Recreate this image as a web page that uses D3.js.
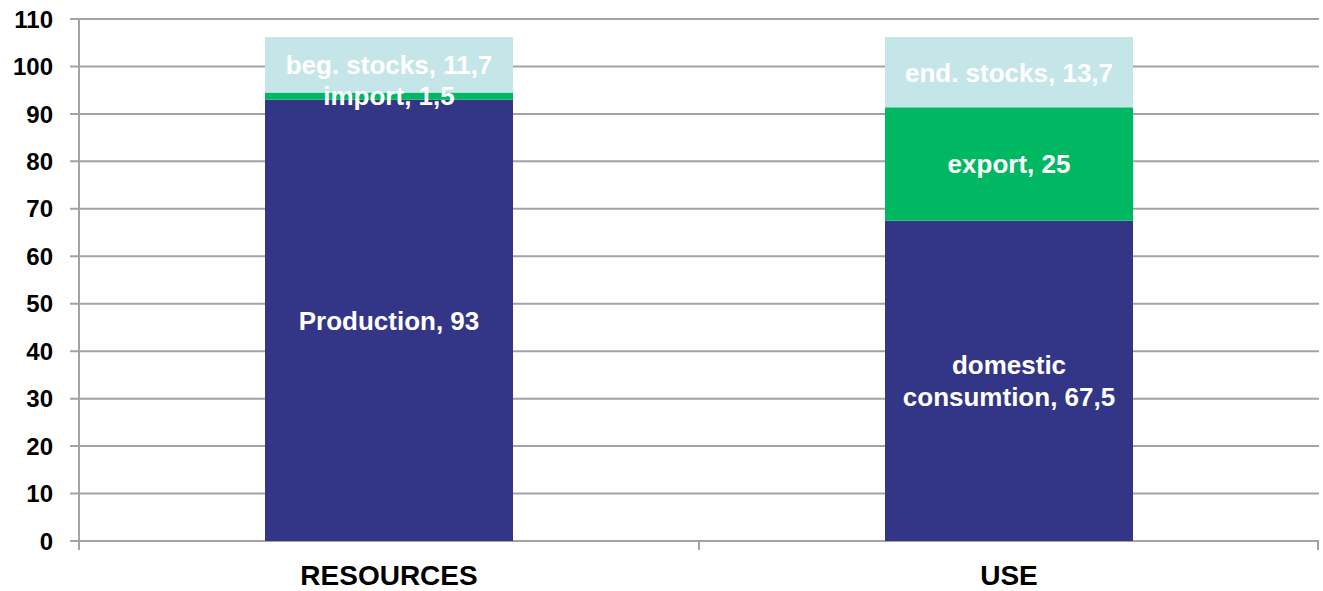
<!DOCTYPE html>
<html>
<head>
<meta charset="utf-8">
<script src="https://cdn.jsdelivr.net/npm/d3@7"></script>
<style>
    body { margin: 0; background: #ffffff; }
    svg { display: block; font-family: "Liberation Sans", Arial, sans-serif; }
</style>
</head>
<body>
<svg></svg>
<script>
var categories = ["RESOURCES", "USE"];
// bar heights as drawn in the picture
var resourcesValues = [93, 1.5, 11.7];
var useValues = [67.5, 23.9, 14.8];
// label texts as printed on the bars
var resourcesLabels = [["Production, 93"], ["import, 1,5"], ["beg. stocks, 11,7"]];
var useLabels = [["domestic", "consumtion, 67,5"], ["export, 25"], ["end. stocks, 13,7"]];
var segmentColors = ["#333686", "#00b862", "#c5e6e9"];
var yTicks = [0, 10, 20, 30, 40, 50, 60, 70, 80, 90, 100, 110];

var width = 1323;
var height = 591;
var margin = { top: 19, right: 4, bottom: 50, left: 79 };

var svg = d3.select("svg").attr("width", width).attr("height", height);

var x = d3
    .scaleBand()
    .domain(categories)
    .range([margin.left, width - margin.right])
    .paddingInner(0.6)
    .paddingOuter(0.3);

var y = d3
    .scaleLinear()
    .domain([0, 110])
    .range([height - margin.bottom, margin.top]);

// build stacked segments
var segments = [];
[
    [categories[0], resourcesLabels, resourcesValues],
    [categories[1], useLabels, useValues],
].forEach(function (col) {
    var base = 0;
    col[2].forEach(function (v, i) {
        segments.push({
            cat: col[0],
            lines: col[1][i],
            y0: base,
            y1: base + v,
            color: segmentColors[i],
        });
        base += v;
    });
});

// gridlines
svg.append("g")
    .selectAll("line")
    .data(yTicks)
    .enter()
    .append("line")
    .attr("x1", margin.left - 9)
    .attr("x2", width - margin.right)
    .attr("y1", function (d) {
        return y(d);
    })
    .attr("y2", function (d) {
        return y(d);
    })
    .attr("stroke", "#a3a3a3")
    .attr("stroke-width", 2);

// x ticks at category borders
var xTickPos = [margin.left, margin.left + (width - margin.left - margin.right) / 2, width - margin.right - 1];
svg.append("g")
    .selectAll("line")
    .data(xTickPos)
    .enter()
    .append("line")
    .attr("x1", function (d) {
        return d;
    })
    .attr("x2", function (d) {
        return d;
    })
    .attr("y1", y(0))
    .attr("y2", y(0) + 9)
    .attr("stroke", "#a3a3a3")
    .attr("stroke-width", 2);

// y axis line
svg.append("line")
    .attr("x1", margin.left)
    .attr("x2", margin.left)
    .attr("y1", y(110))
    .attr("y2", y(0) + 9)
    .attr("stroke", "#a3a3a3")
    .attr("stroke-width", 2);

// y tick labels
svg.append("g")
    .selectAll("text")
    .data(yTicks)
    .enter()
    .append("text")
    .attr("x", 53)
    .attr("y", function (d) {
        return y(d);
    })
    .attr("dy", "0.36em")
    .attr("text-anchor", "end")
    .style("font-size", "24px")
    .style("font-weight", "bold")
    .style("fill", "#000000")
    .text(function (d) {
        return d;
    });

// bars
svg.append("g")
    .selectAll("rect")
    .data(segments)
    .enter()
    .append("rect")
    .attr("x", function (d) {
        return x(d.cat);
    })
    .attr("width", x.bandwidth())
    .attr("y", function (d) {
        return y(d.y1);
    })
    .attr("height", function (d) {
        return y(d.y0) - y(d.y1);
    })
    .attr("fill", function (d) {
        return d.color;
    });

// segment labels
var labels = svg
    .append("g")
    .selectAll("text")
    .data(segments)
    .enter()
    .append("text")
    .attr("text-anchor", "middle")
    .style("font-size", "26px")
    .style("font-weight", "bold")
    .style("fill", "#ffffff")
    .attr("y", function (d) {
        return y((d.y0 + d.y1) / 2);
    });

labels.each(function (d) {
    var t = d3.select(this);
    var cx = x(d.cat) + x.bandwidth() / 2;
    var lineH = 32;
    d.lines.forEach(function (ln, i) {
        t.append("tspan")
            .attr("x", cx)
            .attr("dy", i === 0 ? (0.36 * 26 - ((d.lines.length - 1) * lineH) / 2) + "px" : lineH + "px")
            .text(ln);
    });
});

// category labels
svg.append("g")
    .selectAll("text")
    .data(categories)
    .enter()
    .append("text")
    .attr("x", function (d) {
        return x(d) + x.bandwidth() / 2;
    })
    .attr("y", 585)
    .attr("text-anchor", "middle")
    .style("font-size", "28px")
    .style("font-weight", "bold")
    .style("fill", "#000000")
    .text(function (d) {
        return d;
    });
</script>
</body>
</html>
